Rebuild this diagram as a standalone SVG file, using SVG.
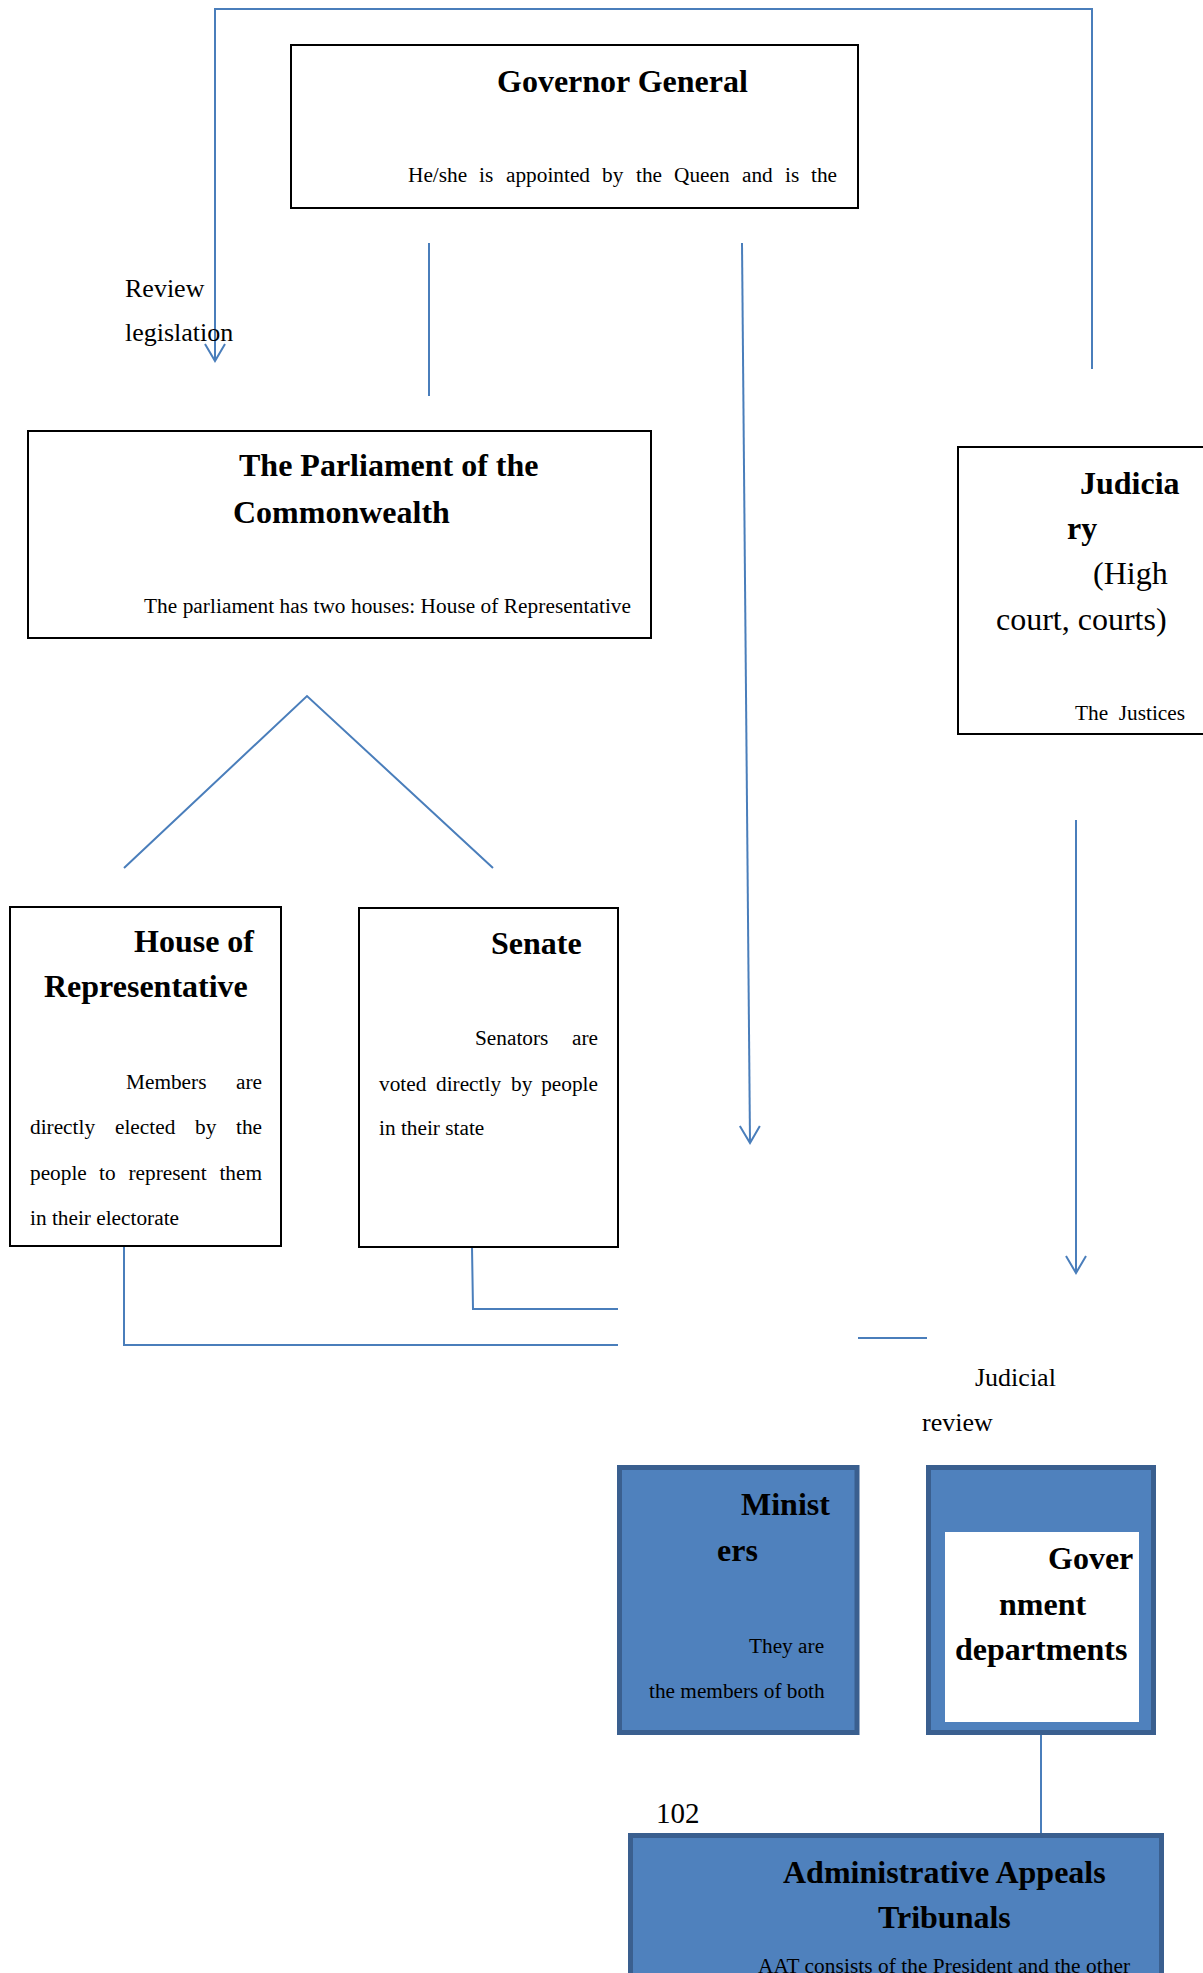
<svg xmlns="http://www.w3.org/2000/svg" width="1203" height="1973" viewBox="0 0 1203 1973">
<style>
  text { font-family: "Liberation Serif", "Times New Roman", serif; fill: #000; }
  .title { font-size: 32px; font-weight: bold; }
  .big { font-size: 32px; }
  .body { font-size: 21.3px; }
  .label { font-size: 26px; }
  .num { font-size: 29px; }
  .box { fill: #fff; stroke: #000; stroke-width: 2; }
  .bluebox { fill: #4f81bd; stroke: #3a5f8f; stroke-width: 5; }
  .inner { fill: #fff; stroke: none; }
  .conn { fill: none; stroke: #4a7ebb; stroke-width: 2; }
</style>
<defs>
  <marker id="arrow" markerUnits="userSpaceOnUse" markerWidth="24" markerHeight="26" viewBox="-3 -13 24 26" refX="17" refY="0" orient="auto" overflow="visible">
    <path d="M0,-10 L17,0 L0,10" fill="none" stroke="#4a7ebb" stroke-width="2"/>
  </marker>
</defs>
<rect width="1203" height="1973" fill="#fff"/>

<g id="connectors">
  <polyline class="conn" points="1092,369 1092,9 215,9 215,361" marker-end="url(#arrow)"/>
  <line class="conn" x1="429" y1="243" x2="429" y2="396"/>
  <line class="conn" x1="742" y1="243" x2="750" y2="1143" marker-end="url(#arrow)"/>
  <line class="conn" x1="1076" y1="820" x2="1076" y2="1273" marker-end="url(#arrow)"/>
  <polyline class="conn" points="124,868 307,696 493,868"/>
  <polyline class="conn" points="124,1246 124,1345 618,1345"/>
  <polyline class="conn" points="472,1247 473,1309 618,1309"/>
  <line class="conn" x1="858" y1="1338" x2="927" y2="1338"/>
  <line class="conn" x1="1041" y1="1735" x2="1041" y2="1833"/>
</g>

<g id="label-review">
  <text class="label" x="125" y="297">Review</text>
  <text class="label" x="125" y="341">legislation</text>
</g>

<g id="label-judicial">
  <text class="label" x="975" y="1386">Judicial</text>
  <text class="label" x="922" y="1431">review</text>
</g>

<g id="governor-general">
  <rect class="box" x="291" y="45" width="567" height="163"/>
  <text class="title" x="497" y="92">Governor General</text>
  <text class="body" y="182"><tspan x="408">He/she</tspan><tspan x="479">is</tspan><tspan x="506">appointed</tspan><tspan x="602">by</tspan><tspan x="636">the</tspan><tspan x="674">Queen</tspan><tspan x="742">and</tspan><tspan x="785">is</tspan><tspan x="837" text-anchor="end">the</tspan></text>
</g>

<g id="parliament">
  <rect class="box" x="28" y="431" width="623" height="207"/>
  <text class="title" x="239" y="476">The Parliament of the</text>
  <text class="title" x="233" y="523">Commonwealth</text>
  <text class="body" x="144" y="613" textLength="487" lengthAdjust="spacing">The parliament has two houses: House of Representative</text>
</g>

<g id="judiciary">
  <rect class="box" x="958" y="447" width="260" height="287"/>
  <text class="title" x="1080" y="494">Judicia</text>
  <text class="title" x="1067" y="539">ry</text>
  <text class="big" x="1093" y="584">(High</text>
  <text class="big" x="996" y="630">court, courts)</text>
  <text class="body" y="720"><tspan x="1075">The</tspan><tspan x="1185" text-anchor="end">Justices</tspan></text>
</g>

<g id="house-of-representative">
  <rect class="box" x="10" y="907" width="271" height="339"/>
  <text class="title" x="134" y="952">House of</text>
  <text class="title" x="44" y="997">Representative</text>
  <text class="body" y="1089"><tspan x="126">Members</tspan><tspan x="262" text-anchor="end">are</tspan></text>
  <text class="body" y="1134"><tspan x="30">directly</tspan><tspan x="115">elected</tspan><tspan x="195">by</tspan><tspan x="262" text-anchor="end">the</tspan></text>
  <text class="body" y="1180"><tspan x="30">people</tspan><tspan x="99">to</tspan><tspan x="128.5">represent</tspan><tspan x="262" text-anchor="end">them</tspan></text>
  <text class="body" x="30" y="1225">in their electorate</text>
</g>

<g id="senate">
  <rect class="box" x="359" y="908" width="259" height="339"/>
  <text class="title" x="491" y="954">Senate</text>
  <text class="body" y="1045"><tspan x="475">Senators</tspan><tspan x="598" text-anchor="end">are</tspan></text>
  <text class="body" y="1091"><tspan x="379">voted</tspan><tspan x="436">directly</tspan><tspan x="511">by</tspan><tspan x="598" text-anchor="end">people</tspan></text>
  <text class="body" x="379" y="1135">in their state</text>
</g>

<g id="ministers">
  <rect class="bluebox" x="619.5" y="1467.5" width="237.5" height="265"/>
  <text class="title" x="741" y="1515">Minist</text>
  <text class="title" x="717" y="1561">ers</text>
  <text class="body" x="749" y="1653">They are</text>
  <text class="body" x="649" y="1698">the members of both</text>
</g>

<g id="government-departments">
  <rect class="bluebox" x="928.5" y="1467.5" width="225" height="265"/>
  <rect class="inner" x="945" y="1532" width="194" height="190"/>
  <text class="title" x="1048" y="1569">Gover</text>
  <text class="title" x="999" y="1615">nment</text>
  <text class="title" x="955" y="1660">departments</text>
</g>

<g id="page-number">
  <text class="num" x="656" y="1823">102</text>
</g>

<g id="administrative-appeals-tribunals">
  <rect class="bluebox" x="630.5" y="1835.5" width="531" height="200"/>
  <text class="title" x="783" y="1883">Administrative Appeals</text>
  <text class="title" x="878" y="1928">Tribunals</text>
  <text class="body" x="758" y="1973" textLength="372" lengthAdjust="spacing">AAT consists of the President and the other</text>
</g>
</svg>
